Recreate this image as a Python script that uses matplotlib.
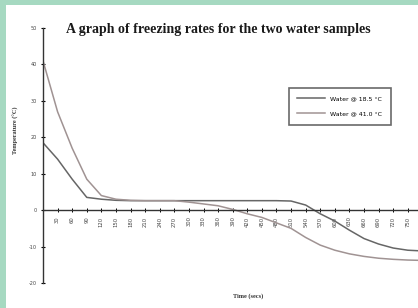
import matplotlib
matplotlib.use("Agg")
import matplotlib.pyplot as plt
from matplotlib.patches import Rectangle

# ---- data ----
time_labels = ["30", "60", "90", "120", "150", "180", "210", "240", "270", "300",
               "330", "360", "390", "420", "450", "480", "510", "540", "570", "600",
               "630", "660", "690", "720", "750"]
hot_water = [41, 27, 17, 8.5, 4, 3, 2.7, 2.6, 2.6, 2.6, 2.2, 1.7, 1.2, 0.2, -1, -2,
             -3.5, -5, -7.5, -9.6, -11, -12, -12.7, -13.2, -13.5, -13.7, -13.8]
cold_water = [18.5, 14, 8.5, 3.5, 3, 2.7, 2.6, 2.6, 2.6, 2.6, 2.6, 2.6, 2.6, 2.6, 2.6,
              2.6, 2.6, 2.5, 1.4, -1, -3, -5.5, -7.8, -9.3, -10.4, -11, -11.2]
y_ticks = [-20, -10, 0, 10, 20, 30, 40, 50]
legend_labels = ["Water @ 18.5 °C", "Water @ 41.0 °C"]

W, H = 418, 308
fig = plt.figure(figsize=(W / 100, H / 100), dpi=100)
fig.patch.set_facecolor("#a6d9c1")
fig.add_artist(Rectangle((6 / W, 0), 1, 1 - 5 / H, transform=fig.transFigure,
                         facecolor="white", edgecolor="none", zorder=0))

ax = fig.add_axes([43 / W, 1 - 283 / H, 1 - 43 / W, (283 - 28) / H])
ax.set_facecolor("none")
x = list(range(len(hot_water)))
ax.plot(x, cold_water, color="#666666", lw=1.1, label=legend_labels[0])
ax.plot(x, hot_water, color="#a09393", lw=1.1, label=legend_labels[1])

ax.spines["left"].set_position(("data", 0))
ax.spines["bottom"].set_position(("data", 0))
ax.spines["top"].set_visible(False)
ax.spines["right"].set_visible(False)
ax.spines["left"].set_color("#333333")
ax.spines["bottom"].set_color("#333333")
ax.spines["left"].set_linewidth(1.0)
ax.spines["bottom"].set_linewidth(1.0)

ax.set_ylim(-20, 50)
ax.set_xlim(0, 25.7)
ax.set_yticks(y_ticks)
ax.set_yticklabels([str(v) for v in y_ticks])
ax.set_xticks(range(1, len(time_labels) + 1))
ax.set_xticklabels(time_labels, rotation=90)
ax.tick_params(axis="y", length=3, width=0.8, pad=3, labelsize=3.5,
               labelcolor="#444444", direction="inout")
ax.tick_params(axis="x", length=3, width=0.7, pad=3, labelsize=3.8,
               labelcolor="#444444", direction="inout")

fig.text(218 / W, 1 - 29 / H, "A graph of freezing rates for the two water samples",
         ha="center", va="center", fontsize=10, fontweight="bold",
         family="Liberation Serif", color="#1a1a1a")
fig.text(248 / W, 1 - 296 / H, "Time (secs)", ha="center", va="center",
         fontsize=4.5, fontweight="bold", family="Liberation Serif", color="#333333")
fig.text(16 / W, 1 - 130 / H, "Temperature (°C)", ha="center", va="center",
         rotation=90, fontsize=4.5, fontweight="bold", family="Liberation Serif",
         color="#333333")

leg = ax.legend(loc="upper left",
                bbox_to_anchor=((286 - 43) / (W - 43), 1 - (85 - 28) / (283 - 28)),
                fontsize=4.5, frameon=True, fancybox=False, edgecolor="#444444",
                borderpad=1.3, labelspacing=1.5, handlelength=4.5)
leg.get_frame().set_linewidth(1.2)

fig.savefig("out.png", dpi=100)
